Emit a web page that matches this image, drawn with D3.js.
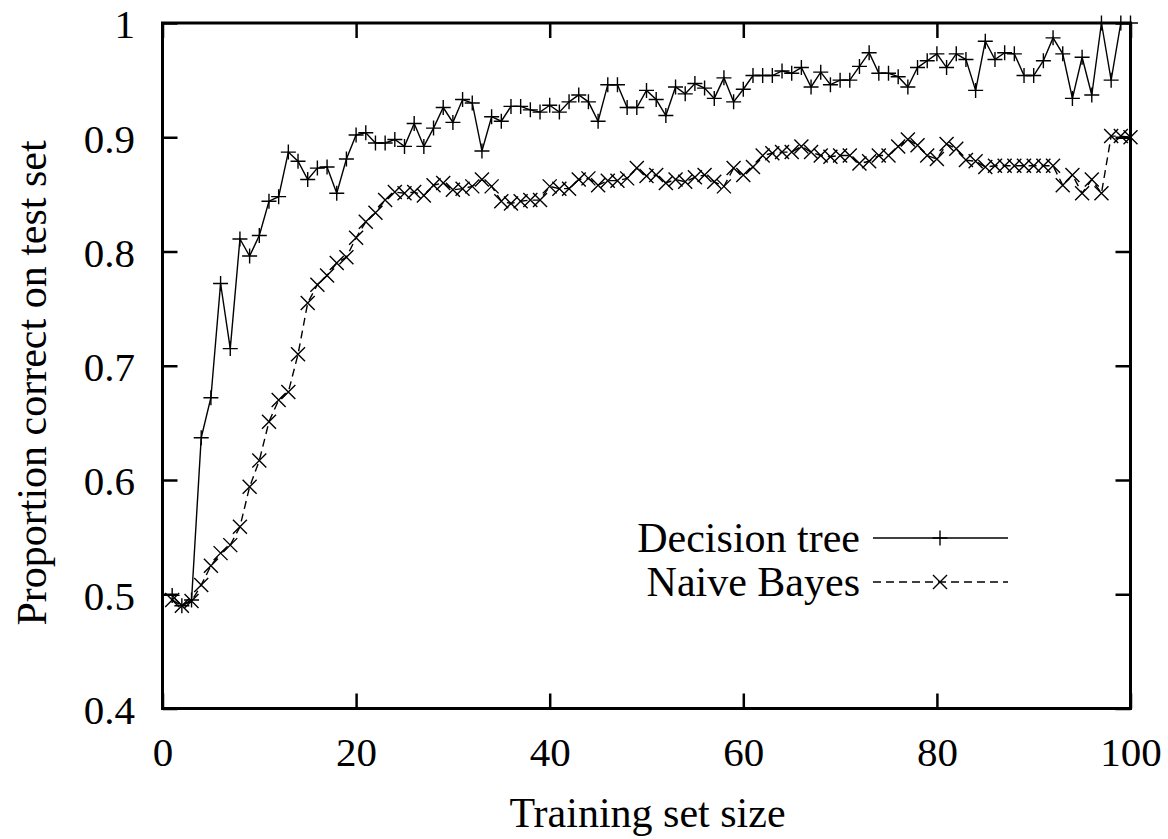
<!DOCTYPE html>
<html>
<head>
<meta charset="utf-8">
<script src="https://cdn.jsdelivr.net/npm/d3@7"></script>
<style>
  html, body { margin: 0; padding: 0; background: #fff; }
  svg { display: block; }
  text { font-family: "Liberation Serif", "Times New Roman", serif; fill: #000; }
</style>
</head>
<body>
<svg id="chart" width="1168" height="839"></svg>
<script>
// ---- data ----
const trainingSizes = d3.range(1, 101);
const decisionTree = [
  0.499,0.490,0.495,0.637,0.672,0.772,0.715,0.811,0.796,0.814,
  0.844,0.848,0.887,0.879,0.863,0.873,0.874,0.851,0.881,0.902,
  0.904,0.895,0.895,0.898,0.892,0.912,0.892,0.908,0.926,0.913,
  0.933,0.930,0.888,0.918,0.914,0.927,0.927,0.924,0.922,0.928,
  0.922,0.931,0.937,0.931,0.914,0.946,0.946,0.926,0.926,0.941,
  0.933,0.919,0.944,0.938,0.947,0.943,0.934,0.952,0.931,0.942,
  0.954,0.954,0.954,0.958,0.956,0.961,0.944,0.957,0.946,0.950,
  0.950,0.962,0.974,0.956,0.956,0.953,0.944,0.961,0.967,0.973,
  0.961,0.973,0.968,0.941,0.984,0.968,0.974,0.973,0.954,0.954,
  0.967,0.987,0.973,0.934,0.970,0.937,1.000,0.950,1.000,1.000
];
const naiveBayes = [
  0.495,0.490,0.494,0.508,0.525,0.536,0.543,0.559,0.594,0.617,
  0.651,0.670,0.677,0.710,0.755,0.771,0.779,0.790,0.795,0.812,
  0.826,0.834,0.845,0.852,0.851,0.852,0.849,0.858,0.860,0.854,
  0.855,0.857,0.863,0.857,0.844,0.842,0.844,0.845,0.845,0.857,
  0.855,0.855,0.863,0.864,0.858,0.862,0.862,0.864,0.873,0.866,
  0.867,0.860,0.863,0.861,0.865,0.867,0.861,0.857,0.873,0.867,
  0.874,0.884,0.886,0.887,0.887,0.892,0.887,0.884,0.883,0.884,
  0.884,0.877,0.879,0.884,0.884,0.892,0.898,0.893,0.884,0.881,
  0.894,0.890,0.880,0.879,0.874,0.875,0.875,0.875,0.875,0.875,
  0.875,0.875,0.858,0.867,0.851,0.863,0.851,0.901,0.901,0.900
];
const xTicks = [0, 20, 40, 60, 80, 100];
const yTicks = [0.4, 0.5, 0.6, 0.7, 0.8, 0.9, 1];
const yTickLabels = ["0.4", "0.5", "0.6", "0.7", "0.8", "0.9", "1"];
const seriesNames = ["Decision tree", "Naive Bayes"];
const xTitle = "Training set size";
const yTitle = "Proportion correct on test set";

// ---- layout ----
const L = 162.5, R = 1130.5, T = 23, B = 708.5;
const svg = d3.select("#chart");
const x = d3.scaleLinear().domain([0, 100]).range([L, R]);
const y = d3.scaleLinear().domain([0.4, 1]).range([B, T]);
const tickLen = 15;

// frame
svg.append("rect")
  .attr("x", L).attr("y", T).attr("width", R - L).attr("height", B - T)
  .attr("fill", "none").attr("stroke", "#000").attr("stroke-width", 3);

// axes (ticks inward, mirrored)
function styleAxis(g) {
  g.select(".domain").remove();
  g.selectAll(".tick line").attr("stroke", "#000").attr("stroke-width", 2.5);
}
const axBottom = svg.append("g").attr("transform", `translate(0,${B})`)
  .call(d3.axisBottom(x).tickValues(xTicks).tickSize(-tickLen).tickSizeOuter(0).tickFormat(d3.format("d")).tickPadding(28));
styleAxis(axBottom);
axBottom.selectAll("text").attr("font-size", 41).attr("font-family", "Liberation Serif").attr("fill", "#000")
  .attr("dy", "0.71em");
const axTop = svg.append("g").attr("transform", `translate(0,${T})`)
  .call(d3.axisTop(x).tickValues(xTicks).tickSize(-tickLen).tickSizeOuter(0).tickFormat(""));
styleAxis(axTop);
const axLeft = svg.append("g").attr("transform", `translate(${L},0)`)
  .call(d3.axisLeft(y).tickValues(yTicks).tickSize(-tickLen).tickSizeOuter(0)
    .tickFormat((d, i) => yTickLabels[i]).tickPadding(27.5));
styleAxis(axLeft);
axLeft.selectAll("text").attr("font-size", 41).attr("font-family", "Liberation Serif").attr("fill", "#000")
  .attr("dy", "0.36em");
const axRight = svg.append("g").attr("transform", `translate(${R},0)`)
  .call(d3.axisRight(y).tickValues(yTicks).tickSize(-tickLen).tickSizeOuter(0).tickFormat(""));
styleAxis(axRight);

// titles
svg.append("text")
  .attr("x", (L + R) / 2 + 1).attr("y", 827)
  .attr("text-anchor", "middle").attr("font-size", 42)
  .text(xTitle);
svg.append("text")
  .attr("transform", `translate(46,383) rotate(-90)`)
  .attr("text-anchor", "middle").attr("font-size", 42)
  .text(yTitle);

// series
const lineGen = d3.line().x((d, i) => x(trainingSizes[i])).y(d => y(d));
const ms = 7.5;
function plusPath(cx, cy) { return `M${cx - ms},${cy}H${cx + ms}M${cx},${cy - ms}V${cy + ms}`; }
function crossPath(cx, cy) { const s = 7; return `M${cx - s},${cy - s}L${cx + s},${cy + s}M${cx - s},${cy + s}L${cx + s},${cy - s}`; }

svg.append("path").datum(decisionTree)
  .attr("d", lineGen).attr("fill", "none").attr("stroke", "#000").attr("stroke-width", 1.4);
svg.append("path").datum(naiveBayes)
  .attr("d", lineGen).attr("fill", "none").attr("stroke", "#000").attr("stroke-width", 1.4)
  .attr("stroke-dasharray", "8,5");

svg.append("g").selectAll("path").data(decisionTree).join("path")
  .attr("d", (d, i) => plusPath(x(trainingSizes[i]), y(d)))
  .attr("stroke", "#000").attr("stroke-width", 1.4).attr("fill", "none");
svg.append("g").selectAll("path").data(naiveBayes).join("path")
  .attr("d", (d, i) => crossPath(x(trainingSizes[i]), y(d)))
  .attr("stroke", "#000").attr("stroke-width", 1.4).attr("fill", "none");

// legend
const legY = [538, 582];
const legX0 = 873, legX1 = 1008, legMid = 940;
seriesNames.forEach((name, i) => {
  svg.append("text")
    .attr("x", 860).attr("y", legY[i] + 14)
    .attr("text-anchor", "end").attr("font-size", 42)
    .text(name);
  svg.append("line")
    .attr("x1", legX0).attr("x2", legX1).attr("y1", legY[i]).attr("y2", legY[i])
    .attr("stroke", "#000").attr("stroke-width", 1.4)
    .attr("stroke-dasharray", i === 0 ? null : "8,5");
  svg.append("path")
    .attr("d", i === 0 ? plusPath(legMid, legY[i]) : crossPath(legMid, legY[i]))
    .attr("stroke", "#000").attr("stroke-width", 1.4).attr("fill", "none");
});
</script>
</body>
</html>
